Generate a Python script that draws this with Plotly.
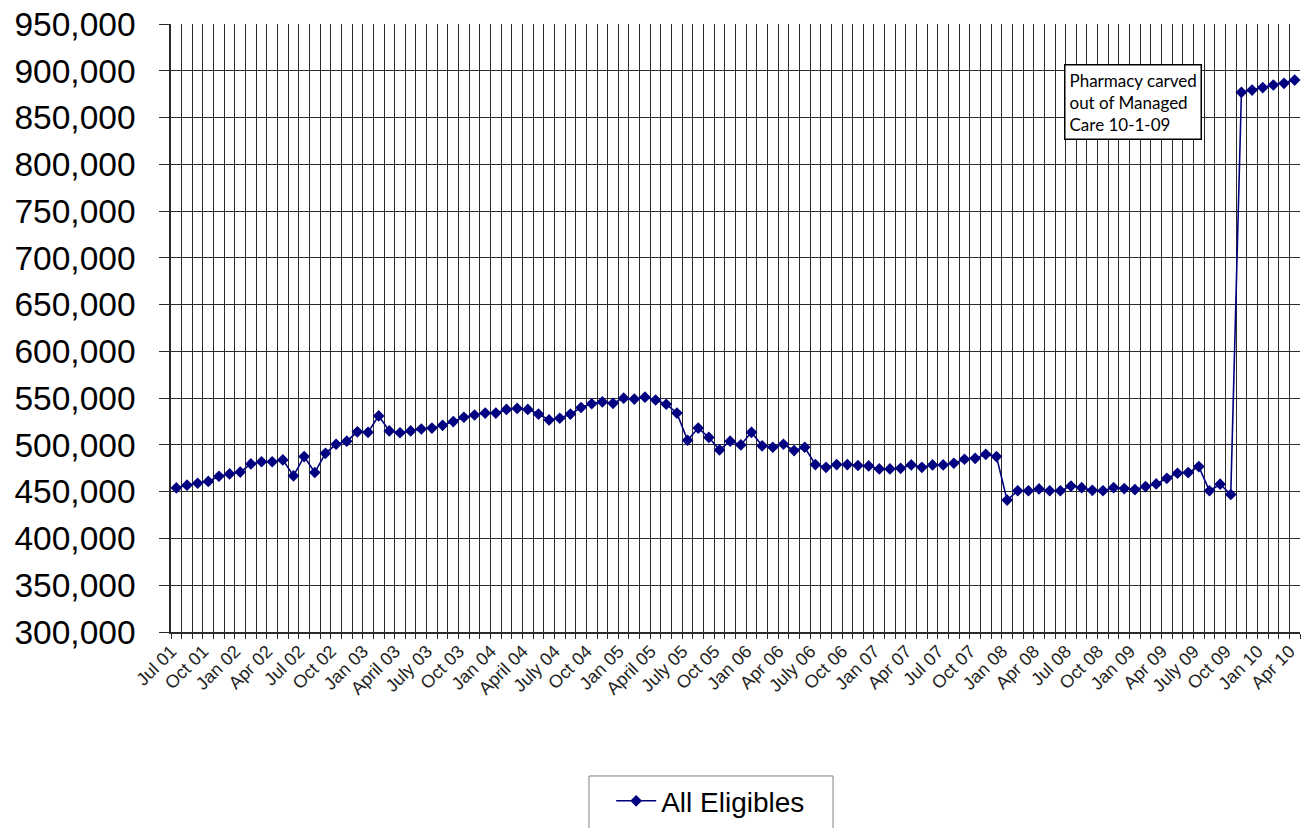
import plotly.graph_objects as go

# ---- data ----
month_names = ["Jan", "Feb", "Mar", "Apr", "May", "Jun", "Jul", "Aug", "Sep", "Oct", "Nov", "Dec"]
months = []
for yy in range(1, 11):
    for m in month_names:
        months.append(f"{m} {yy:02d}")
months = months[6:6 + 106]   # Jul 01 .. Apr 10

all_eligibles = [
    454000, 457000, 459000, 461000, 466500, 469000, 471000, 479700, 482000, 482000,
    484000, 467000, 487500, 470500, 491000, 500700, 504000, 514000, 513500, 531000,
    515000, 513000, 515000, 517000, 518000, 521000, 525000,
    529600, 532000, 534000, 534000, 538000, 539000, 538000, 533000, 526700, 528500,
    533000, 540000, 544000, 546000, 544500, 550000, 549000, 551000, 548000, 543500,
    534000, 505000, 518000, 508000, 494600, 504000,
    500000, 513500, 499000, 497500, 500700, 494000, 497500, 479000, 476000, 479000,
    479000, 478000, 477500, 474300, 474300, 475000, 478600, 476000, 478600, 478600,
    480400, 484700, 485700, 490000, 487500, 441000,
    451000, 451000, 453000, 451000, 451000, 456000, 454300, 451500, 451000, 454300,
    453300, 452300, 455500, 458300, 464300, 469700, 470400, 476800, 451000, 458000,
    447000,
    877000, 879400, 882000, 884800, 886600, 890000,
]

tick_labels = [
    "Jul 01", "Oct 01", "Jan 02", "Apr 02", "Jul 02", "Oct 02", "Jan 03", "April 03",
    "July 03", "Oct 03", "Jan 04", "April 04", "July 04", "Oct 04", "Jan 05", "April 05",
    "July 05", "Oct 05", "Jan 06", "Apr 06", "July 06", "Oct 06", "Jan 07", "Apr 07",
    "Jul 07", "Oct 07", "Jan 08", "Apr 08", "Jul 08", "Oct 08", "Jan 09", "Apr 09",
    "July 09", "Oct 09", "Jan 10", "Apr 10",
]

x_idx = list(range(len(months)))
tick_idx = x_idx[::3]

fig = go.Figure()
fig.add_trace(go.Scatter(
    x=x_idx, y=all_eligibles, customdata=months,
    mode="lines+markers", name="All Eligibles",
    line=dict(color="#000080", width=1.6),
    marker=dict(symbol="diamond", size=9, color="#000080"),
    hovertemplate="%{customdata}: %{y:,}<extra></extra>",
    cliponaxis=False,
))

grid_col = "#2a2a2a"
fig.update_layout(
    width=1301, height=828,
    margin=dict(l=171, r=1, t=24, b=196, autoexpand=False),
    paper_bgcolor="white", plot_bgcolor="white",
    font=dict(family="Liberation Sans, Arial, sans-serif", color="black"),
    showlegend=True,
    legend=dict(
        x=0.478, y=-0.237, xanchor="center", yanchor="top",
        font=dict(size=28, family="Liberation Sans, Arial, sans-serif"),
        borderwidth=0, bgcolor="rgba(0,0,0,0)",
        itemwidth=40,
    ),
    xaxis=dict(
        range=[-0.5, len(months) - 0.5],
        tickmode="array", tickvals=tick_idx, ticktext=tick_labels,
        tickangle=-45, tickfont=dict(size=18, color="#222"),
        ticks="", showgrid=False, automargin=False,
        ticklabeloverflow="allow", ticklabelshift=-5,
        showline=True, linecolor=grid_col, linewidth=1.5,
        zeroline=False,
        minor=dict(tick0=-0.5, dtick=1, showgrid=True, gridcolor=grid_col,
                   gridwidth=1, ticks="outside", ticklen=5, tickcolor=grid_col),
    ),
    yaxis=dict(
        range=[300000, 950000], dtick=50000, tick0=300000,
        tickformat=",", tickfont=dict(size=33.5),
        ticks="outside", ticklen=10, tickcolor=grid_col,
        showgrid=True, gridcolor=grid_col, gridwidth=1,
        showline=True, linecolor=grid_col, linewidth=1.5,
        zeroline=False, ticklabelstandoff=17, automargin=False,
    ),
    shapes=[dict(
        type="rect", xref="paper", yref="paper",
        x0=0.3702, x1=0.5864, y0=-0.2368, y1=-0.33,
        line=dict(color="#808080", width=1), fillcolor="rgba(0,0,0,0)",
        layer="below",
    )],
)

fig.add_annotation(
    xref="paper", yref="paper", x=0.852, y=0.872,
    xanchor="center", yanchor="middle",
    text="Pharmacy carved<br>out of Managed<br>Care 10-1-09",
    align="left", showarrow=False,
    font=dict(family="Lato, Carlito, sans-serif", size=17, color="black"),
    bordercolor="black", borderwidth=1.5, borderpad=4, bgcolor="white",
)

fig.write_html(
    "out.html",
    config={"displayModeBar": False},
    post_script="document.body.style.margin='0';document.body.style.overflow='hidden';",
)
